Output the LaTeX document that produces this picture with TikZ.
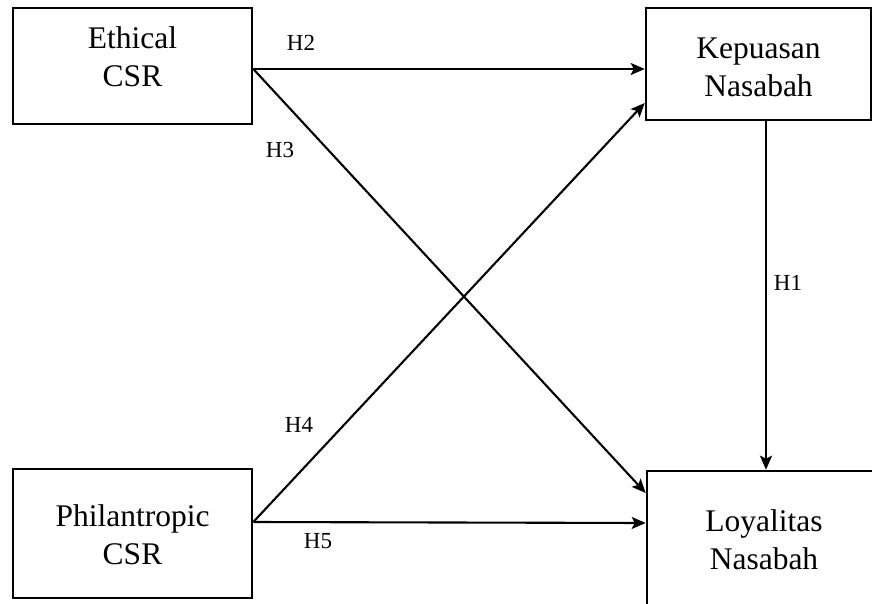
\documentclass[tikz,border=0pt]{standalone}
\usepackage{fontspec}
\setmainfont{Liberation Serif}
\usetikzlibrary{arrows.meta,calc}
\newcommand{\twolines}[3]{\raisebox{#1}[0pt][0pt]{\begin{tabular}[t]{@{}c@{}}#2\\#3\end{tabular}}}
\begin{document}
\begin{tikzpicture}[x=1pt,y=-1pt,
  box/.style={draw=black, line width=2.6pt, inner sep=0pt,
    font=\fontsize{31.5}{38}\selectfont},
  link/.style={line width=2.1pt, -{Stealth[length=14pt,width=12pt,inset=3pt]}},
  hlab/.style={font=\fontsize{23}{26}\selectfont, inner sep=0pt}]
\useasboundingbox (0,0) rectangle (872,604);
\clip (0,0) rectangle (872,604);
\fill[white] (0,0) rectangle (872,604);
\node[box, minimum width=239pt, minimum height=116pt] (e) at (132.5,66) {\twolines{17pt}{Ethical}{CSR}};
\node[box, minimum width=225pt, minimum height=112pt] (k) at (758.5,64) {\twolines{5pt}{Kepuasan}{Nasabah}};
\node[box, minimum width=239pt, minimum height=129pt] (p) at (132.5,533.5) {\twolines{7.5pt}{Philantropic}{CSR}};
\node[box, minimum width=234pt, minimum height=140pt] (l) at (764,541) {\twolines{10pt}{Loyalitas}{Nasabah}};
\draw[link] ($(e.east)+(0,3)$) -- ($(k.west)+(0,5)$);
\draw[link] ($(e.east)+(0,3)$) -- ($(l.west)+(0,-48)$);
\draw[link] ($(p.east)+(0,-11.5)$) -- ($(k.west)+(0,39)$);
\draw[link] ($(p.east)+(0,-11.5)$) -- ($(l.west)+(0,-18)$);
\draw[link] ($(k.south)+(7.5,0)$) -- ($(l.north)+(2,0)$);
\node[hlab] (h2) at (301,43) {H2};
\node[hlab] (h3) at (280,150) {H3};
\node[hlab] (h4) at (299,425) {H4};
\node[hlab] (h5) at (318,541) {H5};
\node[hlab] (h1) at (788,283) {H1};
\end{tikzpicture}
\end{document}
